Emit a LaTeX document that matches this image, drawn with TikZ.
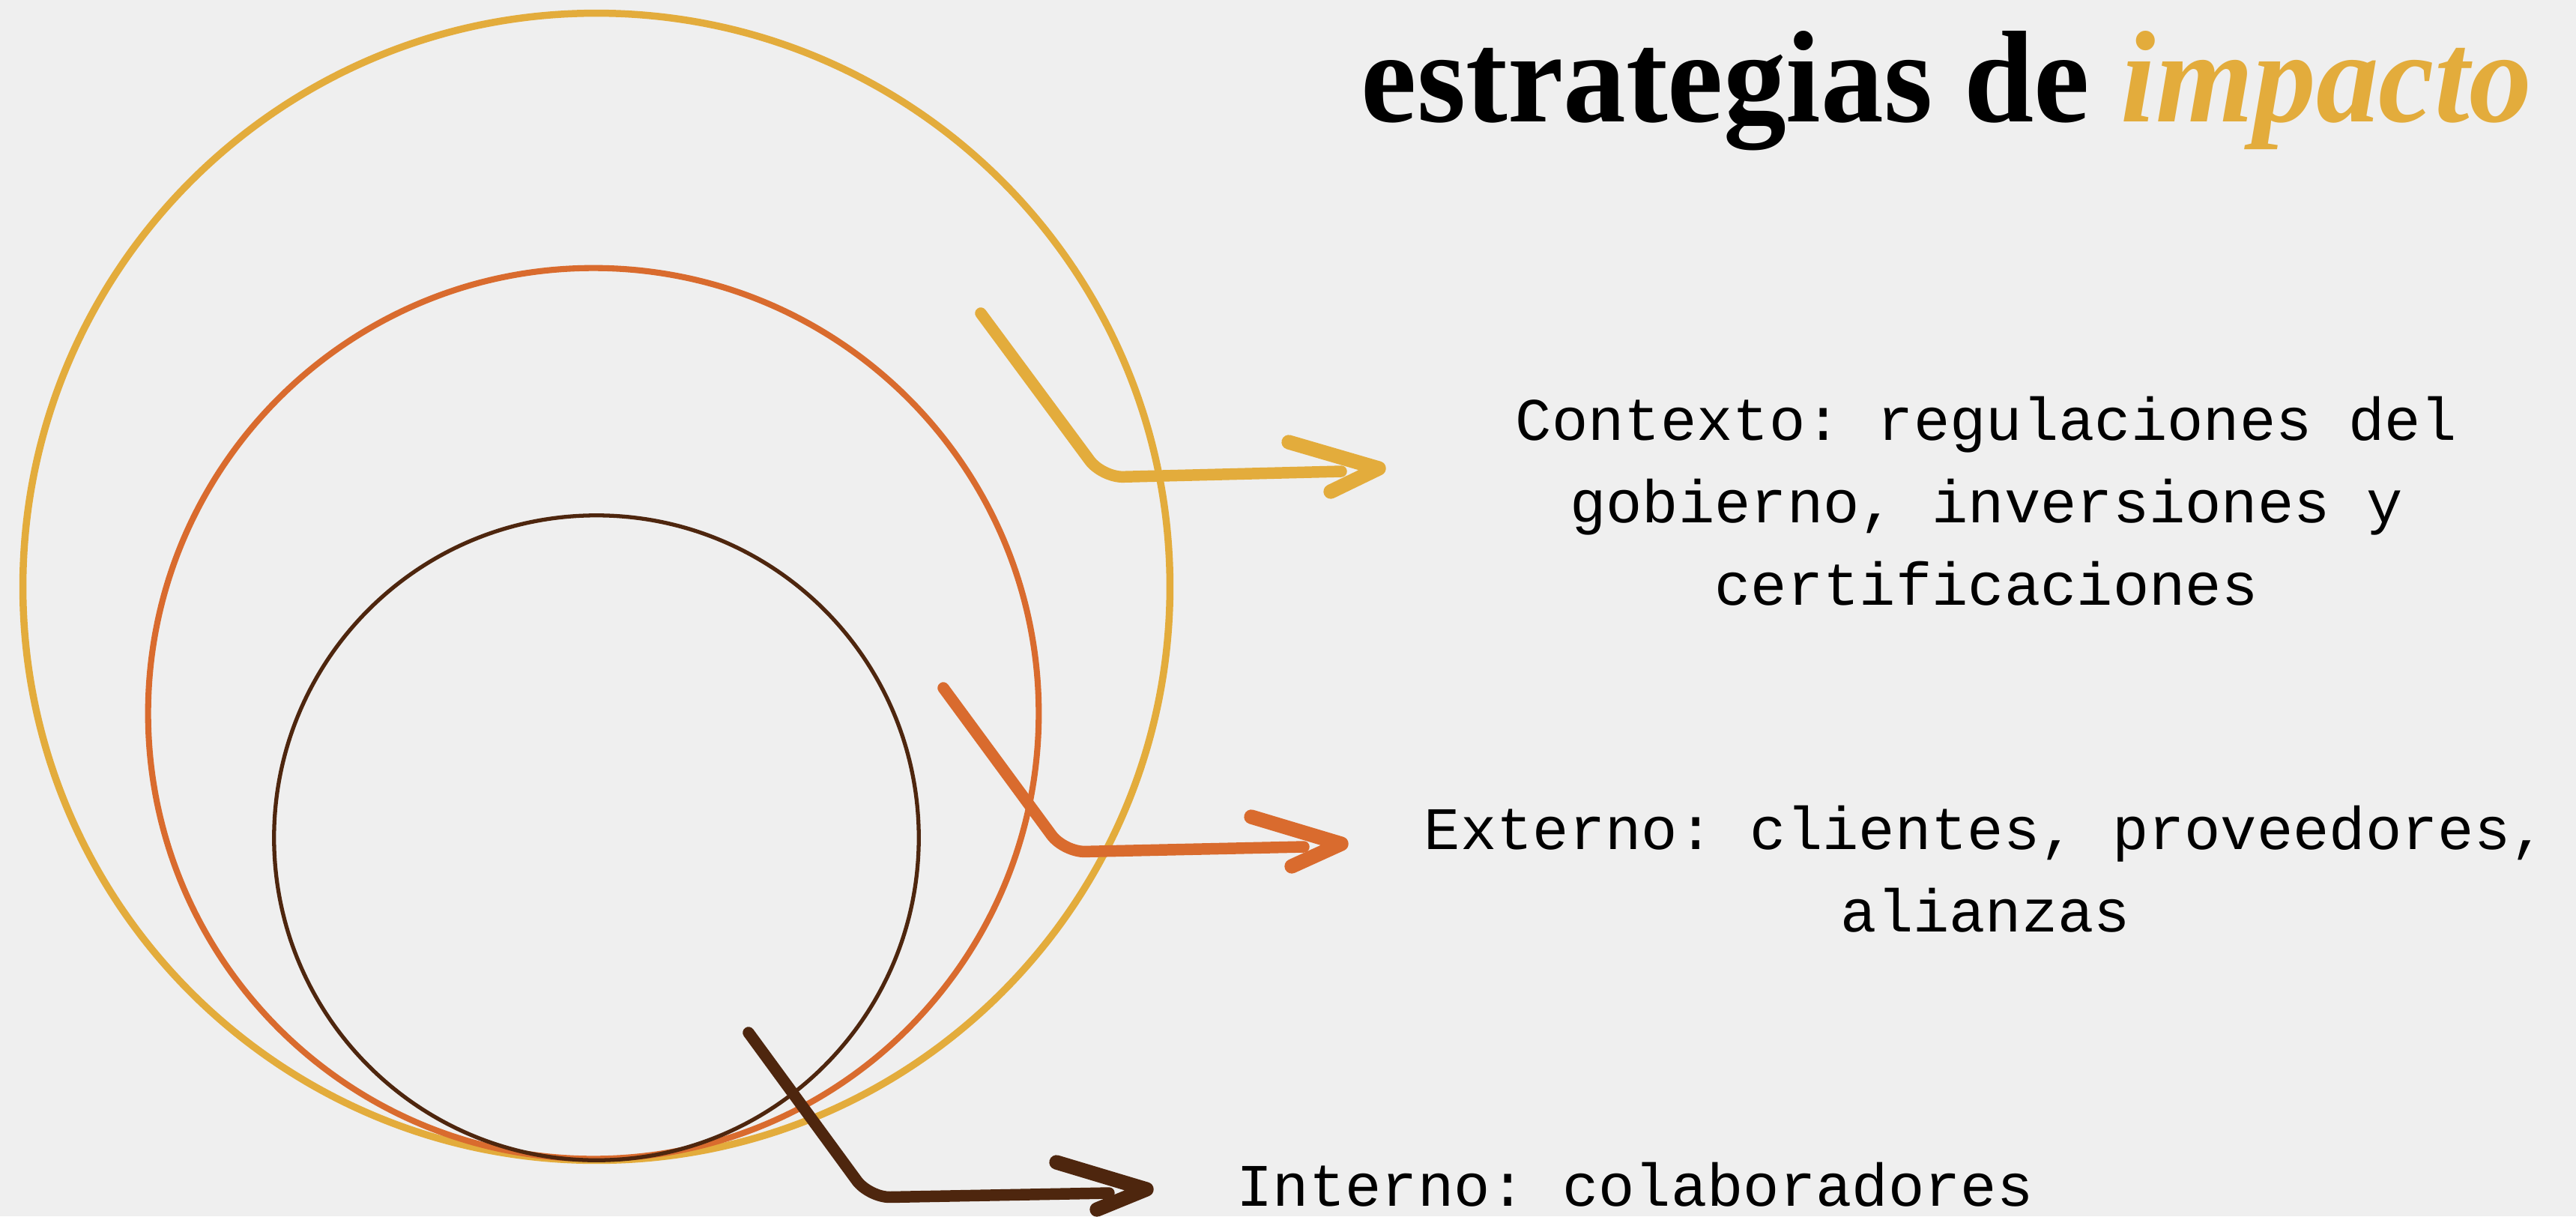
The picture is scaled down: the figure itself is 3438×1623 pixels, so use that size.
\documentclass[tikz,border=0pt]{standalone}
\usepackage{fontspec}
\usepackage{graphicx}
\usepackage{xcolor}
\setmainfont{Liberation Serif}
\setmonofont{Liberation Mono}
\definecolor{bgcol}{HTML}{EFEFEF}
\definecolor{goldc}{HTML}{E3AC3C}
\definecolor{rustc}{HTML}{D96B2E}
\definecolor{brownc}{HTML}{4E260E}

\begin{document}
\begin{tikzpicture}[x=0.01cm,y=-0.01cm]%
  \tikzstyle{ring}=[circle,inner sep=0,outer sep=0]
  \tikzstyle{brush}=[line width=4.4pt,line cap=round,line join=round,rounded corners=8pt]
  \tikzstyle{barb}=[line width=5.5pt,line cap=round,line join=round]
  \tikzstyle{lbl}=[align=center,inner sep=0,font=\fontsize{22.9}{31.2}\selectfont\ttfamily]
  \fill[bgcol] (0,0) rectangle (3438,1623);
  \useasboundingbox (0,0) rectangle (3438,1623);
  \node(title)[anchor=base,inner sep=0] at (2598,162)
    {\scalebox{0.96}[1]{\fontsize{49.6}{50}\selectfont\bfseries estrategias de \textcolor{goldc}{\itshape impacto}}};
  \node(outer)[ring,draw=goldc,line width=2.7pt,minimum size=15.3cm] at (796,783) {};
  \node(middle)[ring,draw=rustc,line width=2.3pt,minimum size=11.88cm] at (792,952) {};
  \node(inner)[ring,draw=brownc,line width=1.5pt,minimum size=8.6cm] at (796,1118) {};
  \node(ctx)[lbl,anchor=base] at (2651,807)
    {Contexto: regulaciones del\\gobierno, inversiones y\\certificaciones};
  \node(ext)[lbl,anchor=base] at (2650,1243)
    {Externo: clientes, proveedores,\\alianzas};
  \node(intn)[lbl,anchor=base] at (2182,1609) {Interno: colaboradores};
  \coordinate(ctx-a) at (1309,418); \coordinate(ctx-b) at (1471,637);
  \coordinate(ctx-c) at (1790,629); \coordinate(ctx-t) at (1840,625);
  \coordinate(ext-a) at (1259,918); \coordinate(ext-b) at (1420,1137);
  \coordinate(ext-c) at (1740,1130); \coordinate(ext-t) at (1790,1126);
  \coordinate(intn-a) at (999,1378); \coordinate(intn-b) at (1160,1598);
  \coordinate(intn-c) at (1480,1592); \coordinate(intn-t) at (1530,1587);
  \draw[brush,goldc] (ctx-a) -- (ctx-b) -- (ctx-c);
  \draw[barb,goldc] (1720,590) -- (ctx-t) -- (1776,656);
  \draw[brush,rustc] (ext-a) -- (ext-b) -- (ext-c);
  \draw[barb,rustc] (1670,1090) -- (ext-t) -- (1724,1156);
  \draw[brush,brownc] (intn-a) -- (intn-b) -- (intn-c);
  \draw[barb,brownc] (1410,1551) -- (intn-t) -- (1464,1614);
\end{tikzpicture}
\end{document}
